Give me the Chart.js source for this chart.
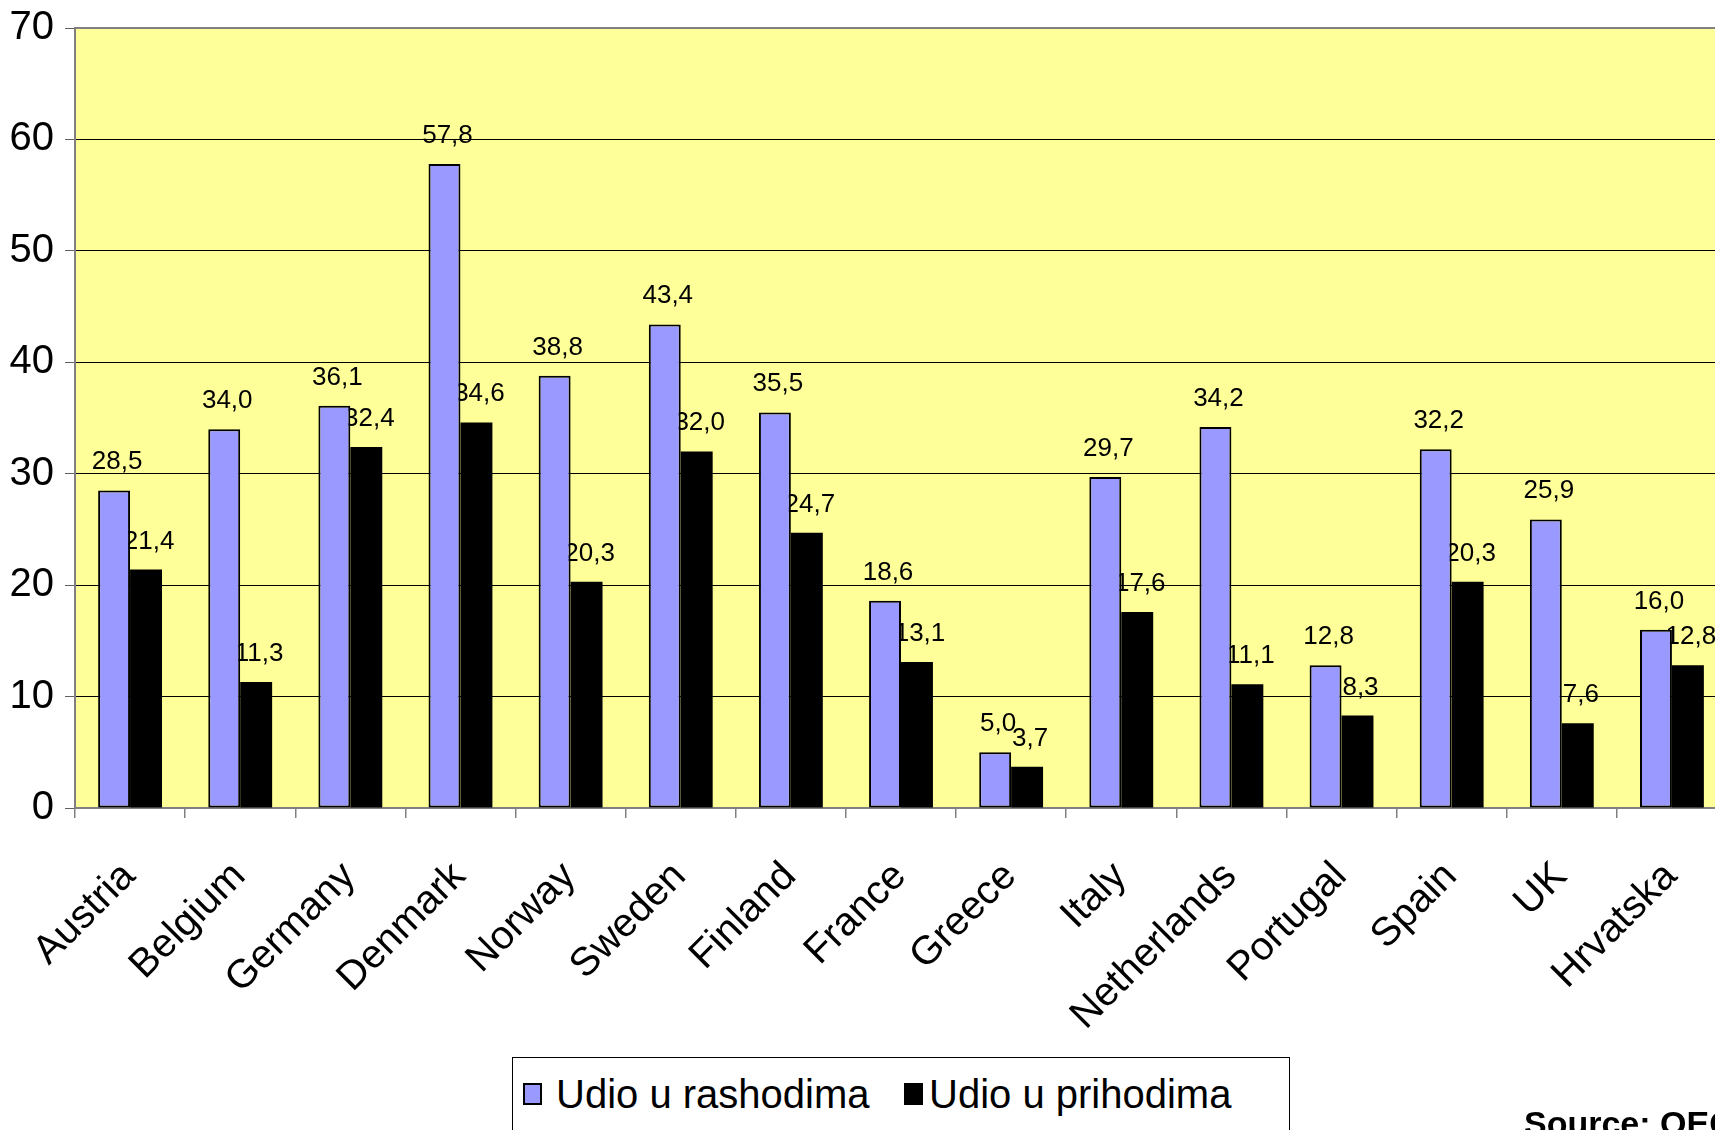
<!DOCTYPE html>
<html>
<head>
<meta charset="utf-8">
<script src="https://cdn.jsdelivr.net/npm/chart.js@4/dist/chart.umd.min.js"></script>
<style>
  html, body { margin: 0; padding: 0; background: #fff; overflow: hidden; width: 1715px; height: 1130px; }
  #wrap { position: absolute; left: 0; top: 0; width: 1740px; height: 1130px; }
  .txt { position: absolute; font-family: 'Liberation Sans', Arial, sans-serif; color: #000; white-space: nowrap; }
  #legend { position: absolute; left: 512px; top: 1057px; width: 778px; height: 110px; border: 1px solid #000; box-sizing: border-box; background: #fff; }
  .key { position: absolute; box-sizing: border-box; border: 2px solid #000; }
</style>
</head>
<body>
<div id="wrap"><canvas id="c" width="1740" height="1130"></canvas></div>
<div id="legend"></div>
<div class="txt" id="source" style="left:1524px; top:1106px; font-size:34px; line-height:34px; font-weight:bold;">Source: OECD</div>
<script>
const categories = ['Austria', 'Belgium', 'Germany', 'Denmark', 'Norway', 'Sweden', 'Finland', 'France', 'Greece', 'Italy', 'Netherlands', 'Portugal', 'Spain', 'UK', 'Hrvatska'];
const udioRashodima = [28.5, 34.0, 36.1, 57.8, 38.8, 43.4, 35.5, 18.6, 5.0, 29.7, 34.2, 12.8, 32.2, 25.9, 16.0];
const udioPrihodima = [21.4, 11.3, 32.4, 34.6, 20.3, 32.0, 24.7, 13.1, 3.7, 17.6, 11.1, 8.3, 20.3, 7.6, 12.8];
const seriesNames = ['Udio u rashodima', 'Udio u prihodima'];
const yTicks = [0, 10, 20, 30, 40, 50, 60, 70];
const sourceText = 'Source: OECD';

const FONT = "'Liberation Sans', Arial, sans-serif";
Chart.defaults.font.family = FONT;
Chart.defaults.color = '#000';

const plotBg = {
  id: 'plotBg',
  beforeDraw(chart) {
    const { ctx, chartArea: a } = chart;
    ctx.save();
    ctx.fillStyle = '#FFFF99';
    ctx.fillRect(a.left, a.top, a.right - a.left, a.bottom - a.top);
    ctx.restore();
  }
};

const frameAndLabels = {
  id: 'frameAndLabels',
  beforeDatasetsDraw(chart) {
    const { ctx, chartArea: a } = chart;
    ctx.save();
    ctx.strokeStyle = '#808080';
    ctx.lineWidth = 2;
    ctx.strokeRect(a.left, a.top, a.right - a.left, a.bottom - a.top);
    ctx.font = '26px ' + FONT;
    ctx.fillStyle = '#000';
    ctx.textAlign = 'center';
    ctx.textBaseline = 'alphabetic';
    chart.data.datasets.forEach((ds, i) => {
      const meta = chart.getDatasetMeta(i);
      meta.data.forEach((bar, j) => {
        const v = ds.data[j];
        ctx.fillText(v.toFixed(1).replace('.', ','), bar.x + 3, bar.y - 21);
      });
    });
    ctx.restore();
  }
};

new Chart(document.getElementById('c'), {
  type: 'bar',
  data: {
    labels: categories,
    datasets: [
      { label: seriesNames[0], data: udioRashodima, backgroundColor: '#9999FF', borderColor: '#000', borderWidth: 2, borderSkipped: false },
      { label: seriesNames[1], data: udioPrihodima, backgroundColor: '#000000', borderColor: '#000', borderWidth: 0 }
    ]
  },
  options: {
    responsive: false,
    animation: false,
    devicePixelRatio: 1,
    layout: { padding: { left: 0, top: 28, right: 13, bottom: 0 } },
    datasets: { bar: { categoryPercentage: 0.58, barPercentage: 1.0 } },
    plugins: { legend: { display: false }, tooltip: { enabled: false } },
    scales: {
      x: {
        offset: true,
        border: { display: false },
        grid: { offset: true, drawOnChartArea: false, drawTicks: true, tickLength: 10, tickColor: '#808080', lineWidth: 1.5 },
        ticks: { autoSkip: false, minRotation: 45, maxRotation: 45, padding: 35, labelOffset: -1, font: { size: 40 }, color: '#000' },
        afterFit(scale) { scale.height = 322; scale.paddingLeft = 0; scale.paddingRight = 0; }
      },
      y: {
        min: 0, max: 70,
        border: { display: false },
        afterBuildTicks(scale) { scale.ticks = yTicks.map(v => ({ value: v })); },
        grid: { color: '#000', lineWidth: 1, drawTicks: true, tickLength: 10, tickColor: '#606060' },
        ticks: { padding: 11, font: { size: 40 }, color: '#000' },
        afterFit(scale) { scale.width = 75; scale.paddingTop = 0; scale.paddingBottom = 0; }
      }
    }
  },
  plugins: [plotBg, frameAndLabels]
});

// legend (HTML, real text)
const legend = document.getElementById('legend');
const keyColors = ['#9999FF', '#000000'];
const keyLefts = [10, 391];
const textLefts = [43, 416];
seriesNames.forEach((name, i) => {
  const k = document.createElement('div');
  k.className = 'key';
  k.style.cssText = `left:${keyLefts[i]}px; top:25px; width:19px; height:22px; background:${keyColors[i]};`;
  legend.appendChild(k);
  const t = document.createElement('div');
  t.className = 'txt';
  t.style.cssText = `left:${textLefts[i]}px; top:16px; font-size:40px; line-height:40px;`;
  t.textContent = name;
  legend.appendChild(t);
});
document.getElementById('source').textContent = sourceText;
</script>
</body>
</html>
